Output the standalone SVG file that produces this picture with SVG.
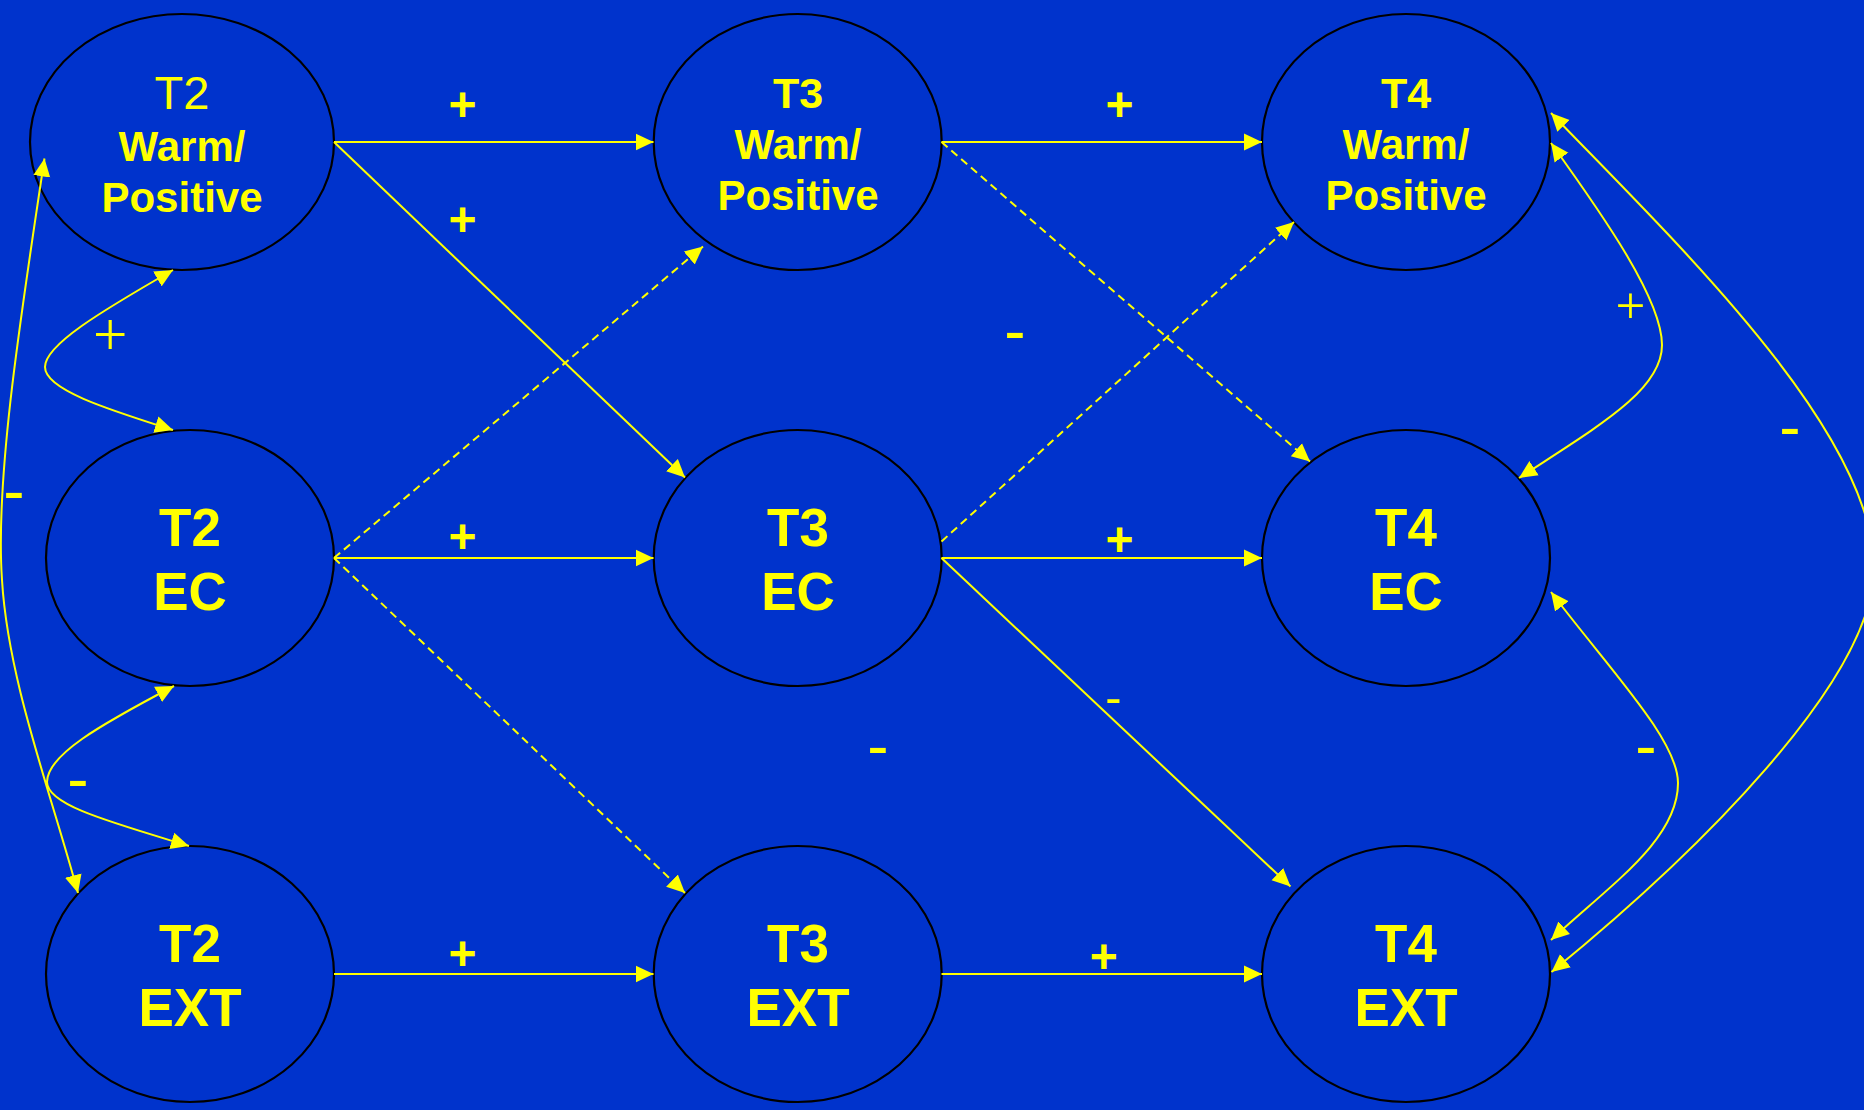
<svg xmlns="http://www.w3.org/2000/svg" width="1864" height="1110" viewBox="0 0 1864 1110">
<style>
.node{fill:#0033CC;stroke:#000;stroke-width:2.2}
.t{font-family:"Liberation Sans",Arial,sans-serif;fill:#FFFF00;text-anchor:middle}
.big{font-size:53px;font-weight:bold}
.mid{font-size:42px;font-weight:bold}
.c{fill:none;stroke:#FFFF00;stroke-width:2}
.d{stroke-dasharray:8 5}
.plus{font-size:48px;font-weight:bold}
.minus{font-size:64px}
.tplus{font-family:"Liberation Serif","Times New Roman",serif;fill:#FFFF00;text-anchor:middle}
</style>
<defs>
<marker id="ah" viewBox="0 0 18 18" refX="18" refY="9" markerWidth="18" markerHeight="18" markerUnits="userSpaceOnUse" orient="auto-start-reverse">
<path d="M0,0.5 L18,9 L0,17.5 z" fill="#FFFF00"/>
</marker>
</defs>
<rect width="1864" height="1110" fill="#0033CC"/>

<g id="T2W">
<ellipse class="node" cx="182" cy="142" rx="152" ry="128"/>
<text class="t" style="font-size:47px" x="182" y="109">T2</text>
<text class="t mid" x="182" y="161">Warm/</text>
<text class="t mid" x="182" y="212">Positive</text>
</g>
<g id="T3W">
<ellipse class="node" cx="797.7" cy="142" rx="144" ry="128"/>
<text class="t mid" style="font-size:43px" x="798" y="108">T3</text>
<text class="t mid" x="798" y="159">Warm/</text>
<text class="t mid" x="798" y="210">Positive</text>
</g>
<g id="T4W">
<ellipse class="node" cx="1406" cy="142" rx="144" ry="128"/>
<text class="t mid" style="font-size:43px" x="1406" y="108">T4</text>
<text class="t mid" x="1406" y="159">Warm/</text>
<text class="t mid" x="1406" y="210">Positive</text>
</g>
<g id="T2EC">
<ellipse class="node" cx="190" cy="558" rx="144" ry="128"/>
<text class="t big" x="190" y="546">T2</text>
<text class="t big" x="190" y="610">EC</text>
</g>
<g id="T3EC">
<ellipse class="node" cx="797.7" cy="558" rx="144" ry="128"/>
<text class="t big" x="798" y="546">T3</text>
<text class="t big" x="798" y="610">EC</text>
</g>
<g id="T4EC">
<ellipse class="node" cx="1406" cy="558" rx="144" ry="128"/>
<text class="t big" x="1406" y="546">T4</text>
<text class="t big" x="1406" y="610">EC</text>
</g>
<g id="T2EXT">
<ellipse class="node" cx="190" cy="974" rx="144" ry="128"/>
<text class="t big" x="190" y="962">T2</text>
<text class="t big" x="190" y="1026">EXT</text>
</g>
<g id="T3EXT">
<ellipse class="node" cx="797.7" cy="974" rx="144" ry="128"/>
<text class="t big" x="798" y="962">T3</text>
<text class="t big" x="798" y="1026">EXT</text>
</g>
<g id="T4EXT">
<ellipse class="node" cx="1406" cy="974" rx="144" ry="128"/>
<text class="t big" x="1406" y="962">T4</text>
<text class="t big" x="1406" y="1026">EXT</text>
</g>

<g id="connectors">
<path class="c" marker-end="url(#ah)" d="M334,142 H653.5"/>
<path class="c" marker-end="url(#ah)" d="M941.5,142 H1262"/>
<path class="c" marker-end="url(#ah)" d="M334,558 H653.5"/>
<path class="c" marker-end="url(#ah)" d="M941.5,558 H1262"/>
<path class="c" marker-end="url(#ah)" d="M334,974 H653.5"/>
<path class="c" marker-end="url(#ah)" d="M941.5,974 H1262"/>
<path class="c" marker-end="url(#ah)" d="M334,142 L685,477.5"/>
<path class="c" marker-end="url(#ah)" d="M941.5,558 L1290.5,886.5"/>
<path class="c d" marker-end="url(#ah)" d="M334,558 L703,246.5"/>
<path class="c d" marker-end="url(#ah)" d="M334,558 L685,893"/>
<path class="c d" marker-end="url(#ah)" d="M941.5,142 L1310,461.5"/>
<path class="c d" marker-end="url(#ah)" d="M941.5,541.5 L1294,222"/>
<path class="c" marker-start="url(#ah)" marker-end="url(#ah)" d="M173,270 C100,312 45,345 45,367 C45,390 110,410 173,430"/>
<path class="c" marker-start="url(#ah)" marker-end="url(#ah)" d="M174,686 C100,725 47,755 47,782 C47,805 110,822 189,846"/>
<path class="c" marker-start="url(#ah)" marker-end="url(#ah)" d="M44.5,158.5 C20,320 -5,480 2,580 C8,680 50,790 78,893"/>
<path class="c" marker-start="url(#ah)" marker-end="url(#ah)" d="M1551,143 C1605,218 1662,300 1662,345 C1662,390 1600,425 1519,478"/>
<path class="c" marker-start="url(#ah)" marker-end="url(#ah)" d="M1551,592 C1610,670 1678,740 1678,783 C1678,840 1610,885 1551,940"/>
<path class="c" marker-start="url(#ah)" marker-end="url(#ah)" d="M1551,113 C1671,238 1874,430 1874,568 C1874,680 1695,855 1551.5,972"/>
</g>

<g id="labels">
<text class="t plus" x="462.5" y="120.5">+</text>
<text class="t plus" x="462.5" y="235.5">+</text>
<text class="t plus" x="1119.4" y="120.5">+</text>
<text class="t plus" x="462.5" y="553">+</text>
<text class="t plus" x="1119.4" y="555.7">+</text>
<text class="t plus" x="462.5" y="969.5">+</text>
<text class="t plus" x="1103.8" y="972.8">+</text>
<text class="t minus" x="1015" y="352.8">-</text>
<text class="t minus" x="14" y="512.6">-</text>
<text class="t minus" x="78" y="800.9">-</text>
<text class="t minus" x="878" y="768.3">-</text>
<text class="t minus" x="1645.8" y="768.3">-</text>
<text class="t minus" x="1790" y="448.8">-</text>
<text class="t" style="font-size:49px" x="1113.3" y="714">-</text>
<text class="tplus" style="font-size:61px" x="110.2" y="355">+</text>
<text class="tplus" style="font-size:53px" x="1630.5" y="323">+</text>
</g>
</svg>
